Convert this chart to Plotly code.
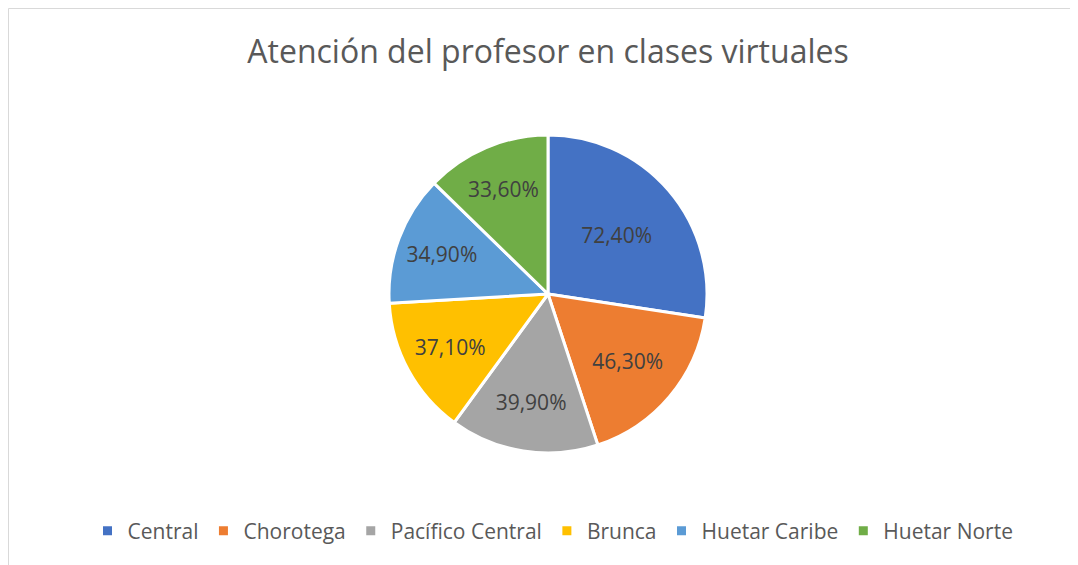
import plotly.graph_objects as go

regions = ["Central", "Chorotega", "Pacífico Central", "Brunca", "Huetar Caribe", "Huetar Norte"]
values = [72.4, 46.3, 39.9, 37.1, 34.9, 33.6]
colors = ["#4472C4", "#ED7D31", "#A5A5A5", "#FFC000", "#5B9BD5", "#70AD47"]
labels_text = [f"{v:.2f}%".replace(".", ",") for v in values]

# page offset of 8px (body margin)
OFF = 8
W, H = 1070, 557
cx, cy, r = 548 - OFF, 294 - OFF, 159

fig = go.Figure(go.Pie(
    labels=regions,
    values=values,
    text=labels_text,
    textinfo="text",
    textposition="inside",
    insidetextorientation="horizontal",
    insidetextfont=dict(size=21, color="#404040", family="Open Sans"),
    marker=dict(colors=colors, line=dict(color="white", width=3)),
    sort=False,
    direction="clockwise",
    rotation=0,
    hoverinfo="label+value",
    domain=dict(x=[(cx - r) / W, (cx + r) / W], y=[1 - (cy + r) / H, 1 - (cy - r) / H]),
))

fig.update_layout(
    width=W, height=H,
    margin=dict(l=0, r=0, t=0, b=0),
    paper_bgcolor="white",
    plot_bgcolor="white",
    font=dict(family="Open Sans", color="#595959"),
    title=dict(text="Atención del profesor en clases virtuales", x=(548 - OFF) / W, xanchor="center",
               y=1 - (52 - OFF) / H, yanchor="middle", font=dict(size=32, color="#595959")),
    legend=dict(orientation="h", x=(553 - OFF) / W, xanchor="center", y=1 - (531 - OFF) / H, yanchor="middle",
                font=dict(size=21, color="#595959"), itemclick=False),
    shapes=[
        dict(type="line", xref="paper", yref="paper", x0=0.5 / W, x1=1.0, y0=1 - 0.5 / H, y1=1 - 0.5 / H,
             line=dict(color="#D9D9D9", width=1)),
        dict(type="line", xref="paper", yref="paper", x0=0.5 / W, x1=0.5 / W, y0=0, y1=1 - 0.5 / H,
             line=dict(color="#D9D9D9", width=1)),
    ],
)

fig.write_html("out.html")
